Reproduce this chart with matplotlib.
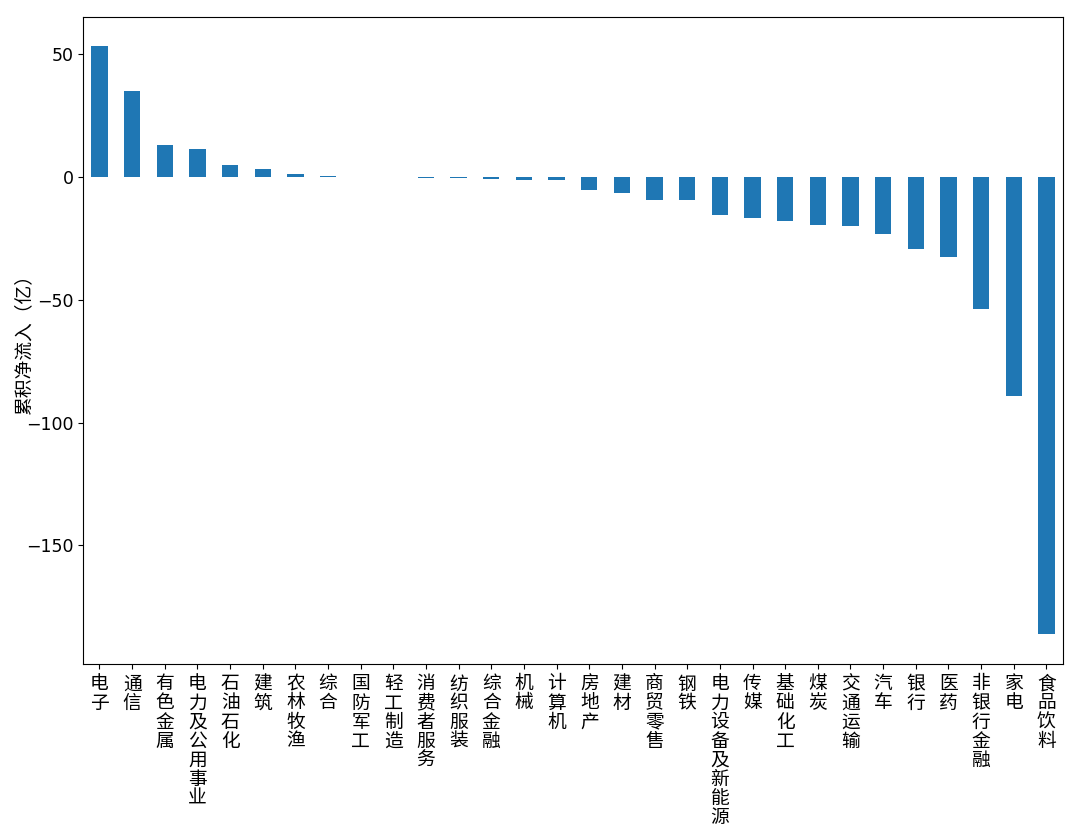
import matplotlib
matplotlib.use("Agg")
import matplotlib.pyplot as plt
import numpy as np

# 行业累积净流入（亿）
industries = ["电子", "通信", "有色金属", "电力及公用事业", "石油石化", "建筑", "农林牧渔",
              "综合", "国防军工", "轻工制造", "消费者服务", "纺织服装", "综合金融", "机械",
              "计算机", "房地产", "建材", "商贸零售", "钢铁", "电力设备及新能源", "传媒",
              "基础化工", "煤炭", "交通运输", "汽车", "银行", "医药", "非银行金融", "家电",
              "食品饮料"]
net_inflow = [53.3, 35.0, 13.1, 11.5, 5.1, 3.1, 1.1, 0.6, 0.05, -0.05, -0.3, -0.3, -0.6, -1.2,
              -1.2, -5.1, -6.3, -9.4, -9.4, -15.6, -16.6, -17.7, -19.5, -20.1, -23.1, -29.3,
              -32.7, -53.7, -89.0, -186.2]

plt.rcParams['font.family'] = ['Noto Sans CJK SC', 'DejaVu Sans']
plt.rcParams['axes.unicode_minus'] = False

fig, ax = plt.subplots(figsize=(10.8, 8.38), dpi=100)
fig.subplots_adjust(left=0.077, right=0.984, top=0.980, bottom=0.208)

x = np.arange(len(industries))
ax.bar(x, net_inflow, width=0.5, color="#1f77b4")
ax.set_xlim(-0.5, len(industries) - 0.5)
ax.margins(y=0.05)

ax.set_xticks(x)
ax.set_xticklabels(["\n".join(s) for s in industries], rotation=0, fontsize=13.5,
                   va="top", linespacing=0.88)
ax.set_yticks([50, 0, -50, -100, -150])
ax.set_yticklabels(["50", "0", "−50", "−100", "−150"], fontsize=12.5,
                   family=['DejaVu Sans'])
ax.set_ylabel("累积净流入（亿）", fontsize=13.5)
ax.yaxis.set_label_coords(-0.05, 0.5)

fig.savefig("out.png", dpi=100)
